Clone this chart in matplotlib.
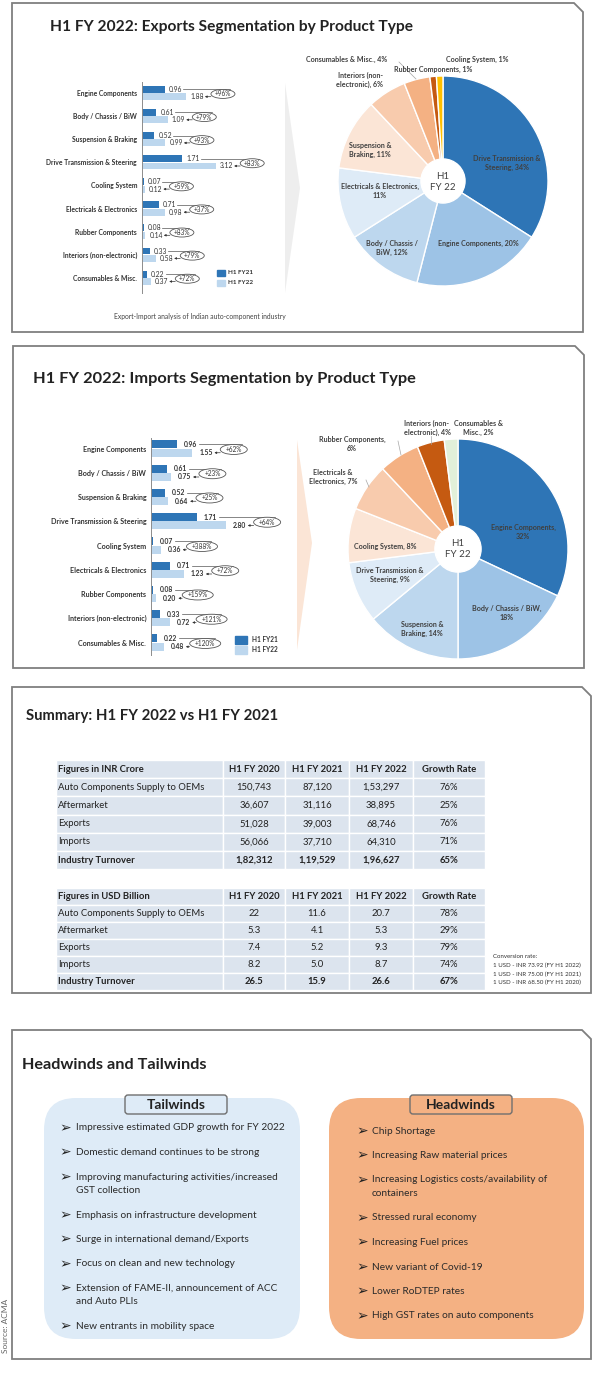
import matplotlib
matplotlib.use("Agg")
import matplotlib.pyplot as plt
import numpy as np
from matplotlib.patches import Polygon, Rectangle, FancyBboxPatch, Circle, Ellipse

plt.rcParams["font.family"] = ["Lato", "DejaVu Sans"]

W, H = 600, 1392

# ---------------- data ----------------
categories = ["Engine Components", "Body / Chassis / BiW", "Suspension & Braking",
              "Drive Transmission & Steering", "Cooling System", "Electricals & Electronics",
              "Rubber Components", "Interiors (non-electronic)", "Consumables & Misc."]

exp_fy21 = [0.96, 0.61, 0.52, 1.71, 0.07, 0.71, 0.08, 0.33, 0.22]
exp_fy22 = [1.88, 1.09, 0.99, 3.12, 0.12, 0.98, 0.14, 0.58, 0.37]
exp_growth = ["+96%", "+79%", "+93%", "+83%", "+59%", "+37%", "+83%", "+79%", "+72%"]

imp_fy21 = [0.96, 0.61, 0.52, 1.71, 0.07, 0.71, 0.08, 0.33, 0.22]
imp_fy22 = [1.55, 0.75, 0.64, 2.80, 0.36, 1.23, 0.20, 0.72, 0.48]
imp_growth = ["+62%", "+23%", "+25%", "+64%", "+388%", "+72%", "+159%", "+121%", "+120%"]

exp_pie_names = ["Drive Transmission &\nSteering, {}%", "Engine Components, {}%",
                 "Body / Chassis /\nBiW, {}%", "Electricals & Electronics,\n{}%",
                 "Suspension &\nBraking, {}%", "Interiors (non-\nelectronic), {}%",
                 "Consumables & Misc., {}%", "Rubber Components, {}%", "Cooling System, {}%"]
exp_pie_share = [34, 20, 12, 11, 11, 6, 4, 1, 1]

imp_pie_names = ["Engine Components,\n{}%", "Body / Chassis / BiW,\n{}%",
                 "Suspension &\nBraking, {}%", "Drive Transmission &\nSteering, {}%",
                 "Cooling System, {}%", "Electricals &\nElectronics, {}%",
                 "Rubber Components,\n{}%", "Interiors (non-\nelectronic), {}%",
                 "Consumables &\nMisc., {}%"]
imp_pie_share = [32, 18, 14, 9, 8, 7, 6, 4, 2]

row_names = ["Auto Components Supply to OEMs", "Aftermarket", "Exports", "Imports",
             "Industry Turnover"]
year_cols = ["H1 FY 2020", "H1 FY 2021", "H1 FY 2022", "Growth Rate"]
inr_fy20 = ["150,743", "36,607", "51,028", "56,066", "1,82,312"]
inr_fy21 = ["87,120", "31,116", "39,003", "37,710", "1,19,529"]
inr_fy22 = ["1,53,297", "38,895", "68,746", "64,310", "1,96,627"]
inr_growth = ["76%", "25%", "76%", "71%", "65%"]
usd_fy20 = ["22", "5.3", "7.4", "8.2", "26.5"]
usd_fy21 = ["11.6", "4.1", "5.2", "5.0", "15.9"]
usd_fy22 = ["20.7", "5.3", "9.3", "8.7", "26.6"]
usd_growth = ["78%", "29%", "79%", "74%", "67%"]
conversion = ["Conversion rate:", "1 USD - INR 73.92 (FY H1 2022)",
              "1 USD - INR 75.00 (FY H1 2021)", "1 USD - INR 68.50 (FY H1 2020)"]

tailwinds = ["Impressive estimated GDP growth for FY 2022",
             "Domestic demand continues to be strong",
             "Improving manufacturing activities/increased\nGST collection",
             "Emphasis on infrastructure development",
             "Surge in international demand/Exports",
             "Focus on clean and new technology",
             "Extension of FAME-II, announcement of ACC\nand Auto PLIs",
             "New entrants in mobility space"]
headwinds = ["Chip Shortage", "Increasing Raw material prices",
             "Increasing Logistics costs/availability of\ncontainers",
             "Stressed rural economy", "Increasing Fuel prices",
             "New variant of Covid-19", "Lower RoDTEP rates",
             "High GST rates on auto components"]

# ---------------- styles ----------------
DARK_BLUE = "#2E75B6"
LIGHT_BLUE = "#BDD7EE"
TEXT = "#333333"
BORDER = "#7F7F7F"
EXP_COLORS = ["#2E75B6", "#9DC3E6", "#BDD7EE", "#DEEBF7", "#FBE5D6",
              "#F8CBAD", "#F4B183", "#C55A11", "#FFC000"]
IMP_COLORS = ["#2E75B6", "#9DC3E6", "#BDD7EE", "#DEEBF7", "#FBE5D6",
              "#F8CBAD", "#F4B183", "#C55A11", "#E2F0D9"]

fig = plt.figure(figsize=(W / 100, H / 100), dpi=100)
fig.patch.set_facecolor("white")
base = fig.add_axes([0, 0, 1, 1])
base.set_xlim(0, W)
base.set_ylim(H, 0)
base.axis("off")


def px_axes(x0, y0, w, h):
    ax = fig.add_axes([x0 / W, 1 - (y0 + h) / H, w / W, h / H])
    ax.patch.set_alpha(0)
    return ax


def panel(x0, y0, x1, y1, c=9):
    pts = [(x0, y0), (x1 - c, y0), (x1, y0 + c), (x1, y1), (x0, y1)]
    base.add_patch(Polygon(pts, closed=True, fill=False, edgecolor=BORDER, lw=1.3))


def bar_chart(fy21, fy22, growth, x_axis, y_first, step, scale, y_top, y_bot,
              bar_h, val_bold, lab_off, lab_w, ell_w, ell_h, fs, vfs):
    ax = px_axes(x_axis, y_top, 175, y_bot - y_top)
    idx = np.arange(len(categories))
    px = 1 / scale
    ax.set_xlim(0, 175 * px)
    ax.set_ylim((y_bot - y_first) / step, (y_top - y_first) / step)
    off = bar_h / 2 + 0.01
    ax.barh(idx - off, fy21, height=bar_h, color=DARK_BLUE)
    ax.barh(idx + off, fy22, height=bar_h, color=LIGHT_BLUE)
    for s in ["top", "right", "bottom"]:
        ax.spines[s].set_visible(False)
    ax.spines["left"].set_color("#8C8C8C")
    ax.spines["left"].set_linewidth(0.7)
    ax.set_xticks([])
    ax.set_yticks(idx)
    ax.set_yticklabels(categories, fontsize=fs, fontweight="bold", color=TEXT)
    ax.tick_params(axis="y", length=0, pad=3.5)
    wt = "bold" if val_bold else "normal"
    for i, (a, b, g) in enumerate(zip(fy21, fy22, growth)):
        ya, yb = i - off, i + off
        ax.text(a + lab_off * px, ya, f"{a:.2f}", fontsize=vfs, color=TEXT,
                fontweight=wt, va="center", clip_on=False)
        ax.text(b + lab_off * px, yb, f"{b:.2f}", fontsize=vfs, color=TEXT,
                fontweight=wt, va="center", clip_on=False)
        ex = b + 1.55
        w = ell_w + (4 if len(g) > 4 else 0)
        ax.plot([a + (lab_off + lab_w + 1) * px, ex + 0.3 * w * px], [ya, ya],
                color="#555555", lw=0.5, clip_on=False, zorder=3)
        ax.add_patch(Ellipse((ex, i + 0.04), w * px, ell_h / step, facecolor="white",
                             edgecolor="#555555", lw=0.6, clip_on=False, zorder=4))
        ax.text(ex, i + 0.04, g, fontsize=vfs - 0.2, color=TEXT, ha="center",
                va="center", clip_on=False, zorder=5)
        ax.annotate("", xy=(b + (lab_off + lab_w + 1) * px, yb),
                    xytext=(ex - w / 2 * px, yb),
                    arrowprops=dict(arrowstyle="-|>", lw=0.5, color="#333333",
                                    mutation_scale=3, shrinkA=0, shrinkB=0),
                    annotation_clip=False)
    return ax


def legend(x, y1, y2, w, h, tx, fs):
    for y, c, t in [(y1, DARK_BLUE, "H1 FY21"), (y2, LIGHT_BLUE, "H1 FY22")]:
        base.add_patch(Rectangle((x, y - h / 2), w, h, color=c))
        base.text(tx, y, t, fontsize=fs, fontweight="bold", color=TEXT, va="center")


def pie_chart(shares, colors, cx, cy, r):
    ax = px_axes(cx - r, cy - r, 2 * r, 2 * r)
    ax.pie(shares, colors=colors, startangle=90, counterclock=False, radius=1,
           wedgeprops=dict(edgecolor="white", linewidth=1))
    ax.add_patch(Circle((0, 0), 0.21, color="white", zorder=5))
    ax.set_xlim(-1, 1)
    ax.set_ylim(-1, 1)
    return ax


# ---------------- panel frames ----------------
panel(12, 3, 583, 332)
panel(13, 346, 584, 668)
panel(12, 687, 591, 993)
panel(12, 1030, 591, 1359)

# ---------------- panel 1: exports ----------------
base.text(50, 27, "H1 FY 2022: Exports Segmentation by Product Type", fontsize=11.2,
          fontweight="bold", color="#222222", va="center")
base.add_patch(Polygon([(285, 83), (300, 188), (285, 293)], closed=True,
                       facecolor="#EEEEEE", edgecolor="none"))
bar_chart(exp_fy21, exp_fy22, exp_growth, 142, 93, 23.1, 23.6, 82, 293,
          0.30, False, 4, 13.5, 24, 9, 4.9, 4.9)
legend(217, 273, 283, 8, 6, 228, 4.6)
base.text(200, 316, "Export-Import analysis of Indian auto-component industry",
          fontsize=4.9, color="#444444", ha="center", va="center")
pie_chart(exp_pie_share, EXP_COLORS, 443, 181, 105)

# ---------------- panel 2: imports ----------------
base.text(33, 379, "H1 FY 2022: Imports Segmentation by Product Type", fontsize=11.8,
          fontweight="bold", color="#222222", va="center")
base.add_patch(Polygon([(297, 440), (312, 543), (297, 650)], closed=True,
                       facecolor="#FBE5D6", edgecolor="none"))
bar_chart(imp_fy21, imp_fy22, imp_growth, 151, 448.5, 24.25, 26.7, 438, 655,
          0.33, True, 7, 14, 27, 10, 5.1, 4.9)
legend(235, 640, 650, 12, 8, 252, 4.7)
pie_chart(imp_pie_share, IMP_COLORS, 458, 549, 110)

# ---------------- panel 3: summary tables ----------------
base.text(26, 716, "Summary: H1 FY 2022 vs H1 FY 2021", fontsize=10.7,
          fontweight="bold", color="#222222", va="center")
col_edges = [56, 223, 285, 349, 413, 485]
TFS = 6.8


def table(y0, row_h, title, cols):
    n = len(row_names) + 1
    for r in range(n):
        for c in range(len(col_edges) - 1):
            base.add_patch(Rectangle((col_edges[c], y0 + r * row_h),
                                     col_edges[c + 1] - col_edges[c], row_h,
                                     facecolor="#DCE4EE", edgecolor="white", lw=1.0))
    yc = y0 + row_h / 2
    base.text(58, yc, title, fontsize=TFS, fontweight="bold", color="#222222", va="center")
    for c, t in enumerate(year_cols):
        base.text((col_edges[c + 1] + col_edges[c + 2]) / 2, yc, t, fontsize=TFS,
                  fontweight="bold", color="#222222", ha="center", va="center")
    for r, name in enumerate(row_names):
        y = y0 + (r + 1.5) * row_h
        wt = "bold" if r == len(row_names) - 1 else "normal"
        base.text(58, y, name, fontsize=TFS, fontweight=wt, color="#222222", va="center")
        for c, vals in enumerate(cols):
            base.text((col_edges[c + 1] + col_edges[c + 2]) / 2, y, vals[r], fontsize=TFS,
                      fontweight=wt, color="#222222", ha="center", va="center")


table(760, 18.2, "Figures in INR Crore", [inr_fy20, inr_fy21, inr_fy22, inr_growth])
table(888, 17.0, "Figures in USD Billion", [usd_fy20, usd_fy21, usd_fy22, usd_growth])
for k, t in enumerate(conversion):
    base.text(493, 957 + k * 8.6, t, fontsize=4.4, color="#333333", va="center")

# ---------------- panel 4: headwinds and tailwinds ----------------
base.text(22, 1065, "Headwinds and Tailwinds", fontsize=11.7, fontweight="bold",
          color="#222222", va="center")
base.text(6, 1326, "Source: ACMA", fontsize=6, color="#666666", rotation=90,
          ha="center", va="center")


def wind_box(x0, x1, fill, label, items, y_first, bullet_x, text_x):
    base.add_patch(FancyBboxPatch((x0, 1098), x1 - x0, 241,
                                  boxstyle="round,pad=0,rounding_size=32",
                                  facecolor=fill, edgecolor="none"))
    lx = x0 + 132
    base.add_patch(FancyBboxPatch((lx - 51, 1095), 102, 19,
                                  boxstyle="round,pad=0,rounding_size=3",
                                  facecolor=fill, edgecolor="#6F6F6F", lw=1.0))
    base.text(lx, 1105, label, fontsize=10, fontweight="bold", color="#222222",
              ha="center", va="center")
    y = y_first
    for item in items:
        lines = item.split("\n")
        base.text(bullet_x, y, "\u27a2", fontsize=10, family="DejaVu Sans",
                  color="#222222", ha="center", va="center")
        for k, ln in enumerate(lines):
            base.text(text_x, y + k * 13.5, ln, fontsize=7.3, color="#2A2A2A", va="center")
        y += 24.5 + 13.5 * (len(lines) - 1)


wind_box(44, 300, "#DEEBF7", "Tailwinds", tailwinds, 1128, 65, 76)
wind_box(329, 584, "#F4B183", "Headwinds", headwinds, 1131, 362, 372)

# ---------------- top overlay: pie labels ----------------
top = fig.add_axes([0, 0, 1, 1])
top.patch.set_alpha(0)
top.set_xlim(0, W)
top.set_ylim(H, 0)
top.axis("off")

exp_lab_pos = [(507, 163), (478, 243), (392, 248), (380, 191), (370, 150),
               (360, 80), (347, 59), (433, 69), (477, 59)]
imp_lab_pos = [(523, 532), (507, 613), (422, 629), (390, 575), (385, 546),
               (333, 477), (352, 444), (427, 428), (478, 428)]
for names, shares, pos in [(exp_pie_names, exp_pie_share, exp_lab_pos),
                           (imp_pie_names, imp_pie_share, imp_lab_pos)]:
    for nm, v, (x, y) in zip(names, shares, pos):
        top.text(x, y, nm.format(v), fontsize=5.1, fontweight="bold", color="#404040",
                 ha="center", va="center", linespacing=1.25)

top.text(443, 182, "H1\nFY 22", fontsize=7, color="#404040", ha="center",
         va="center", linespacing=1.2)
top.text(458, 549, "H1\nFY 22", fontsize=7, color="#404040", ha="center",
         va="center", linespacing=1.2)

# leader lines
for (x1, y1), (x2, y2) in [((399, 62), (416, 79)),
                           ((431, 436), (431, 444)),
                           ((398, 441), (401, 455)),
                           ((366, 480), (369, 487))]:
    top.plot([x1, x2], [y1, y2], color="#A6A6A6", lw=0.5)

fig.savefig("out.png", dpi=100)
